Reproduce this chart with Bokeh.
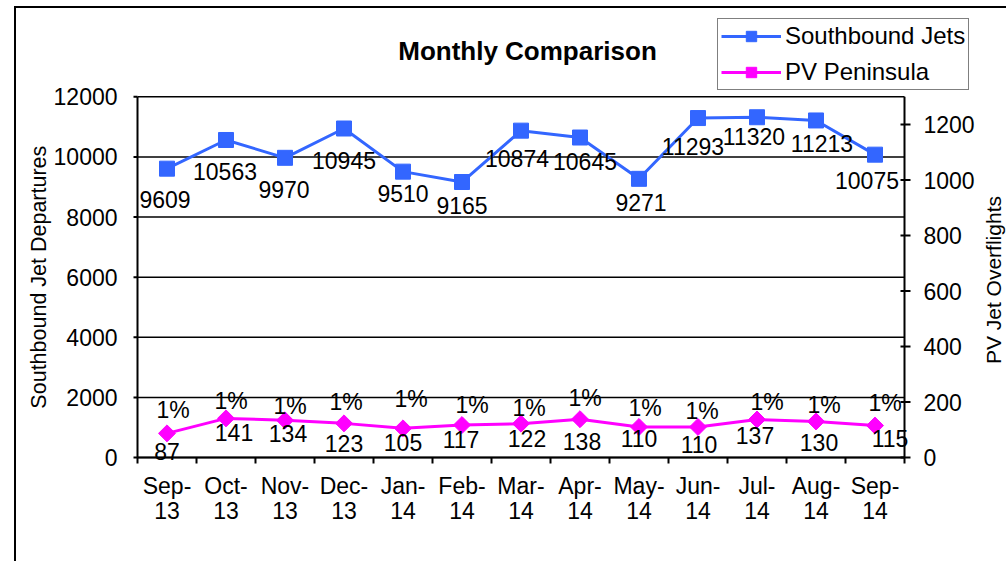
import math
from bokeh.plotting import figure
from bokeh.models import (Range1d, ColumnDataSource, Legend, LegendItem, Label,
                          InlineStyleSheet)
from bokeh.core.properties import value
from bokeh.embed import file_html
from bokeh.resources import INLINE

# ---------------- data ----------------
months = ["Sep-13", "Oct-13", "Nov-13", "Dec-13", "Jan-14", "Feb-14", "Mar-14",
          "Apr-14", "May-14", "Jun-14", "Jul-14", "Aug-14", "Sep-14"]
southbound = [9609, 10563, 9970, 10945, 9510, 9165, 10874, 10645, 9271,
              11293, 11320, 11213, 10075]
pv_peninsula = [87, 141, 134, 123, 105, 117, 122, 138, 110, 110, 137, 130, 115]
left_ticks = [0, 2000, 4000, 6000, 8000, 10000, 12000]
right_ticks = [0, 200, 400, 600, 800, 1000, 1200]
left_max = 12000
right_max = 1300

# ---------------- label placement styles (pixels) ----------------
sb_dx = [-2, -1, -1, 0, 0, 0, -4, 5, 2, -5, -3, 6, -8]
sb_dy = [31, 32, 32, 32, 22, 23, 28, 24, 24, 28, 19, 23, 26]
pv_dx = [0, 8, 3, 0, 0, -1, 6, 2, 0, 1, -2, 3, 15]
pv_dy = [18, 14, 13, 20, 14, 14, 15, 22, 12, 18, 16, 21, 13]
pct_dx = [6, 5, 5, 2, 8, 10, 8, 5, 6, 4, 10, 8, 10]
pct_dy = [-23, -17, -14, -21, -29, -20, -16, -21, -19, -16, -17, -16, -23]

FONT = "Liberation Sans"
BLUE = "#3366FF"
MAGENTA = "#FF00FF"
n = len(months)

# ---------------- layout (pixels) ----------------
W, H = 1006, 561
PLOT_L, PLOT_R = 137, 904      # plot area left / right
PLOT_T, PLOT_B = 96.3, 457     # plot area top (value max) / bottom


def px_to_x(px):
    return (px - PLOT_L) / (PLOT_R - PLOT_L) * n


def px_to_y(py, vmax=left_max):
    return (PLOT_B - py) / (PLOT_B - PLOT_T) * vmax


def dx_px(d):
    return d / (PLOT_R - PLOT_L) * n


xs = [i + 0.5 for i in range(n)]
pct = [f"{round(100 * b / a)}%" for a, b in zip(southbound, pv_peninsula)]
month_part = [m.split("-")[0] + "-" for m in months]
year_part = [m.split("-")[1] for m in months]

sb_src = ColumnDataSource(dict(x=xs, y=southbound, t=[str(v) for v in southbound],
                               dx=sb_dx, dy=sb_dy))
pv_src = ColumnDataSource(dict(x=xs, y=pv_peninsula, t=[str(v) for v in pv_peninsula],
                               dx=pv_dx, dy=pv_dy, p=pct, pdx=pct_dx, pdy=pct_dy))

# the frame covers the whole canvas; the axes are drawn inside it so that the
# legend, title and edge labels are not clipped
p = figure(width=W, height=H, frame_width=W, frame_height=H,
           min_border_left=0, min_border_top=0, min_border_right=0,
           min_border_bottom=0,
           x_range=Range1d(px_to_x(0), px_to_x(W)),
           y_range=Range1d(px_to_y(H), px_to_y(0)),
           x_axis_location=None, y_axis_location=None,
           output_backend="svg", toolbar_location=None, title_location=None,
           background_fill_color="white", border_fill_color="white")
p.extra_y_ranges = {"pv": Range1d(px_to_y(H, right_max), px_to_y(0, right_max))}
p.outline_line_color = None
p.grid.visible = False

TXT = dict(text_font=value(FONT), text_color="black", text_baseline="middle")

# horizontal grid lines
p.segment(x0=0, x1=n, y0=left_ticks, y1=left_ticks, line_color="black", line_width=1.5)

# category axis (bottom)
p.segment(x0=0, x1=n, y0=0, y1=0, line_color="black", line_width=2)
bounds = list(range(n + 1))
p.segment(x0=bounds, x1=bounds, y0=[0] * len(bounds), y1=[px_to_y(PLOT_B + 6)] * len(bounds),
          line_color="black", line_width=2)
p.text(x=xs, y=[0] * n, text=month_part, y_offset=28, text_font_size="23px",
       text_align="center", **TXT)
p.text(x=xs, y=[0] * n, text=year_part, y_offset=53, text_font_size="23px",
       text_align="center", **TXT)

# left value axis
p.segment(x0=0, x1=0, y0=0, y1=left_max, line_color="black", line_width=2)
p.segment(x0=dx_px(-4), x1=0, y0=left_ticks, y1=left_ticks,
          line_color="black", line_width=2)
p.text(x=[0] * len(left_ticks), y=left_ticks, text=[str(t) for t in left_ticks],
       x_offset=-20, text_font_size="23px", text_align="right", **TXT)
p.text(x=[px_to_x(38)], y=[left_max / 2], text=["Southbound Jet Departures"],
       angle=math.pi / 2, text_font_size="21.5px", text_align="center", **TXT)

# right value axis
p.segment(x0=n, x1=n, y0=0, y1=right_max, y_range_name="pv",
          line_color="black", line_width=2)
p.segment(x0=n + dx_px(-4), x1=n + dx_px(6), y0=right_ticks, y1=right_ticks,
          y_range_name="pv", line_color="black", line_width=2)
p.text(x=[n] * len(right_ticks), y=right_ticks, text=[str(t) for t in right_ticks],
       y_range_name="pv", x_offset=19, text_font_size="23px", text_align="left", **TXT)
p.text(x=[px_to_x(993)], y=[right_max / 2], text=["PV  Jet Overflights"],
       y_range_name="pv", angle=math.pi / 2, text_font_size="21px",
       text_align="center", **TXT)

# series
l1 = p.line("x", "y", source=sb_src, line_color=BLUE, line_width=3)
m1 = p.scatter("x", "y", source=sb_src, marker="square", size=15,
               fill_color=BLUE, line_color=BLUE)
l2 = p.line("x", "y", source=pv_src, y_range_name="pv", line_color=MAGENTA, line_width=3)
m2 = p.scatter("x", "y", source=pv_src, y_range_name="pv", marker="square",
               angle=math.pi / 4, size=12, fill_color=MAGENTA, line_color=MAGENTA)

p.text("x", "y", text="t", x_offset="dx", y_offset="dy", source=sb_src,
       text_font_size="23px", text_align="center", **TXT)
p.text("x", "y", text="t", x_offset="dx", y_offset="dy", source=pv_src,
       y_range_name="pv", text_font_size="23px", text_align="center", **TXT)
p.text("x", "y", text="p", x_offset="pdx", y_offset="pdy", source=pv_src,
       y_range_name="pv", text_font_size="23px", text_align="center", **TXT)

# title
p.add_layout(Label(x=px_to_x(527), y=px_to_y(50), text="Monthly Comparison",
                   text_font=FONT, text_font_size="26px", text_font_style="bold",
                   text_color="black", text_align="center", text_baseline="middle"))

# legend
legend = Legend(items=[LegendItem(label="Southbound Jets", renderers=[l1, m1]),
                       LegendItem(label="PV Peninsula", renderers=[l2, m2])],
                location=(717, H - 90))
legend.border_line_color = "black"
legend.border_line_width = 1.5
legend.background_fill_color = "white"
legend.background_fill_alpha = 1
legend.label_text_font = FONT
legend.label_text_font_size = "24px"
legend.label_text_color = "black"
legend.glyph_width = 60
legend.glyph_height = 26
legend.label_height = 26
legend.spacing = 8
legend.padding = 3
legend.margin = 0
legend.label_standoff = 4
p.add_layout(legend)

# outer chart frame (top and left edges)
p.stylesheets = [InlineStyleSheet(css="""
:host::after {
  content: "";
  position: absolute;
  left: 14px; top: 6px; right: 0px; bottom: 0px;
  border-left: 2px solid black;
  border-top: 2px solid black;
  pointer-events: none;
}
""")]

open("out.html", "w").write(file_html(p, INLINE))
